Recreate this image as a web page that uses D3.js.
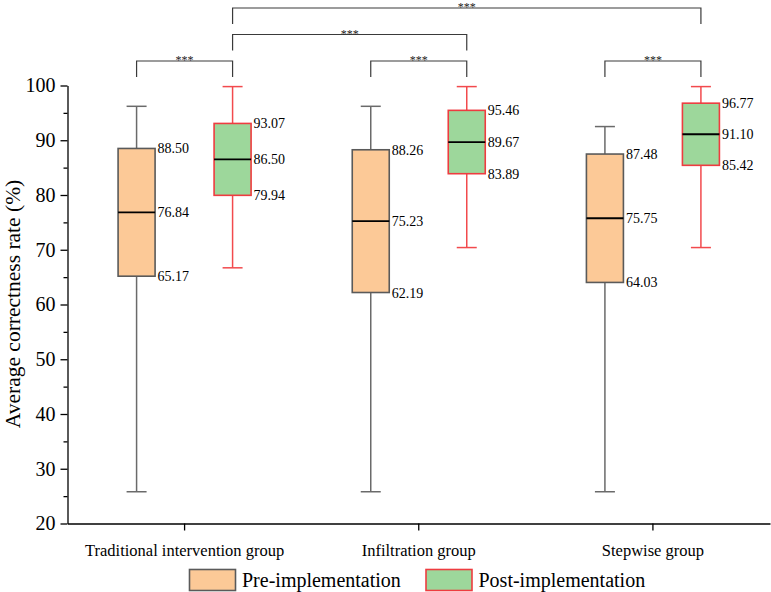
<!DOCTYPE html>
<html><head><meta charset="utf-8">
<script src="https://cdn.jsdelivr.net/npm/d3@7"></script>
<style>body{margin:0;background:#fff}svg{display:block}svg text{font-family:"Liberation Serif","Times New Roman",serif !important}</style>
</head><body><svg id="c" width="771" height="592"></svg>
<script>
const categories = ["Traditional intervention group", "Infiltration group", "Stepwise group"];
const seriesNames = ["Pre-implementation", "Post-implementation"];
// [min, q1, median, q3, max]
const preStats = [
  [25.8, 65.17, 76.84, 88.50, 96.2],
  [25.8, 62.19, 75.23, 88.26, 96.2],
  [25.8, 64.03, 75.75, 87.48, 92.5]
];
const postStats = [
  [66.7, 79.94, 86.50, 93.07, 99.8],
  [70.4, 83.89, 89.67, 95.46, 99.8],
  [70.4, 85.42, 91.10, 96.77, 99.8]
];
const yTicks = [20, 30, 40, 50, 60, 70, 80, 90, 100];
const yMinorTicks = [25, 35, 45, 55, 65, 75, 85, 95];
// significance comparisons: [categoryA, seriesA, categoryB, seriesB, level]
const comparisons = [
  [0, 0, 0, 1, 0],
  [1, 0, 1, 1, 0],
  [2, 0, 2, 1, 0],
  [0, 1, 1, 1, 1],
  [0, 1, 2, 1, 2]
];
const sigLabel = "***";

const FONT = "'Liberation Serif', 'Times New Roman', serif";
const svg = d3.select("#c");
const x = d3.scaleBand().domain(categories).range([67.5, 770]);
const y = d3.scaleLinear().domain([20, 100]).range([523.5, 85.5]);
const offset = 48, boxW = 37, capW = 20;
const styles = [
  {fill: "#fcc997", stroke: "#5a5a5a", whisker: "#6a6a6a"},
  {fill: "#9dd79b", stroke: "#ee3c40", whisker: "#f24a4d"}
];
const cx = (ci, si) => x(categories[ci]) + x.bandwidth() / 2 + (si === 0 ? -offset : offset);

// axes
const yAxis = svg.append("g").attr("transform", "translate(67.5,0)")
  .call(d3.axisLeft(y).tickValues(yTicks).tickSize(7).tickPadding(5).tickSizeOuter(0))
  .attr("font-family", FONT);
yAxis.select(".domain").attr("stroke", "#000").attr("stroke-width", 1.3);
yAxis.selectAll(".tick line").attr("stroke", "#000").attr("stroke-width", 1.3);
yAxis.selectAll(".tick text").attr("font-size", 20).attr("fill", "#000").style("font-family", FONT);
svg.append("g").attr("transform", "translate(67.5,0)")
  .call(d3.axisLeft(y).tickValues(yMinorTicks).tickSize(4).tickFormat(""))
  .call(g => g.select(".domain").remove())
  .selectAll(".tick line").attr("stroke", "#000").attr("stroke-width", 1.3);

const xAxis = svg.append("g").attr("transform", "translate(0,523.5)")
  .call(d3.axisBottom(x).tickSize(7).tickPadding(14).tickSizeOuter(0))
  .attr("font-family", FONT);
xAxis.select(".domain").attr("stroke", "#000").attr("stroke-width", 1.3);
xAxis.selectAll(".tick line").attr("stroke", "#000").attr("stroke-width", 1.3);
xAxis.selectAll(".tick text").attr("font-size", 16.5).attr("fill", "#000").style("font-family", FONT);

svg.append("text").attr("transform", "translate(20,304) rotate(-90)")
  .attr("text-anchor", "middle").attr("font-size", 21.5).attr("fill", "#000")
  .style("font-family", FONT)
  .text("Average correctness rate (%)");

// boxes
[preStats, postStats].forEach((stats, si) => {
  const st = styles[si];
  stats.forEach((s, ci) => {
    const c = cx(ci, si);
    const g = svg.append("g");
    g.append("line").attr("x1", c).attr("x2", c).attr("y1", y(s[0])).attr("y2", y(s[1]))
      .attr("stroke", st.whisker).attr("stroke-width", 1.5);
    g.append("line").attr("x1", c).attr("x2", c).attr("y1", y(s[3])).attr("y2", y(s[4]))
      .attr("stroke", st.whisker).attr("stroke-width", 1.5);
    [s[0], s[4]].forEach(v => g.append("line").attr("x1", c - capW / 2).attr("x2", c + capW / 2)
      .attr("y1", y(v)).attr("y2", y(v)).attr("stroke", st.whisker).attr("stroke-width", 1.5));
    g.append("rect").attr("x", c - boxW / 2).attr("width", boxW)
      .attr("y", y(s[3])).attr("height", y(s[1]) - y(s[3]))
      .attr("fill", st.fill).attr("stroke", st.stroke).attr("stroke-width", 1.6);
    g.append("line").attr("x1", c - boxW / 2).attr("x2", c + boxW / 2)
      .attr("y1", y(s[2])).attr("y2", y(s[2])).attr("stroke", "#000").attr("stroke-width", 1.8);
    [s[3], s[2], s[1]].forEach(v => g.append("text").attr("x", c + boxW / 2 + 2.5).attr("y", y(v) + 5)
      .attr("font-size", 14).attr("fill", "#000").style("font-family", FONT).text(v.toFixed(2)));
  });
});

// significance brackets
comparisons.forEach(([ca, sa, cb, sb, level]) => {
  const x1 = cx(ca, sa), x2 = cx(cb, sb);
  const top = 61 - level * 26.5, leg = 16;
  svg.append("path")
    .attr("d", `M${x1},${top + leg}V${top}H${x2}V${top + leg}`)
    .attr("fill", "none").attr("stroke", "#3a3a3a").attr("stroke-width", 1.2);
  svg.append("text").attr("x", (x1 + x2) / 2).attr("y", top + 3)
    .attr("text-anchor", "middle").attr("font-size", 12).attr("fill", "#222")
    .style("font-family", FONT).text(sigLabel);
});

// legend
const legX = [189.5, 426];
seriesNames.forEach((n, i) => {
  svg.append("rect").attr("x", legX[i]).attr("y", 569.5).attr("width", 46).attr("height", 21)
    .attr("fill", styles[i].fill).attr("stroke", styles[i].stroke).attr("stroke-width", 1.6);
  svg.append("text").attr("x", legX[i] + 52.5).attr("y", 587).attr("font-size", 20)
    .attr("fill", "#000").style("font-family", FONT).text(n);
});
</script></body></html>
